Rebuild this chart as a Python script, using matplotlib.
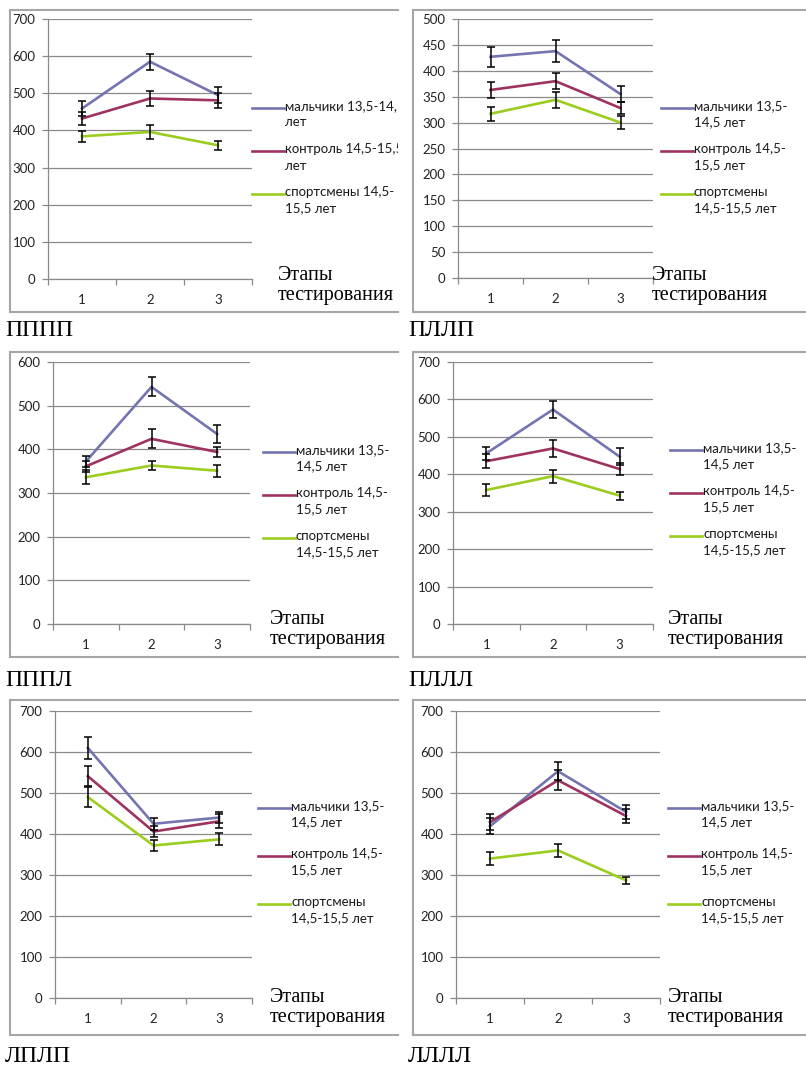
import matplotlib
matplotlib.use("Agg")
import matplotlib.pyplot as plt
from matplotlib.lines import Line2D
from matplotlib.transforms import Bbox, TransformedBbox

# --- data ---
stages = ["1", "2", "3"]
panel_names = ["ПППП", "ПЛЛП", "ПППЛ", "ПЛЛЛ", "ЛПЛП", "ЛЛЛЛ"]
y_max = [700, 500, 600, 700, 700, 700]
y_step = [100, 50, 100, 100, 100, 100]

boys = [[459, 585, 495], [427, 438, 355], [372, 543, 435],
        [456, 573, 447], [610, 425, 440], [419, 553, 454]]
boys_err = [[20, 22, 21], [19, 21, 15], [13, 22, 21],
            [18, 23, 22], [26, 15, 14], [20, 22, 17]]
control = [[432, 486, 481], [363, 380, 328], [361, 424, 394],
           [435, 469, 414], [541, 406, 431], [429, 531, 444]]
control_err = [[18, 20, 20], [15, 16, 12], [12, 22, 11],
               [18, 23, 16], [24, 14, 17], [19, 24, 16]]
athletes = [[384, 396, 360], [317, 344, 300], [336, 363, 351],
            [358, 395, 343], [490, 372, 387], [340, 360, 287]]
athletes_err = [[15, 18, 12], [14, 16, 12], [16, 11, 14],
                [16, 17, 11], [24, 14, 15], [15, 15, 9]]

legend_labels = [
    ["мальчики 13,5-14,5\nлет", "контроль 14,5-15,5\nлет", "спортсмены 14,5-\n15,5 лет"],
    ["мальчики 13,5-\n14,5 лет", "контроль 14,5-\n15,5 лет", "спортсмены\n14,5-15,5 лет"],
    ["мальчики 13,5-\n14,5 лет", "контроль 14,5-\n15,5 лет", "спортсмены\n14,5-15,5 лет"],
    ["мальчики 13,5-\n14,5 лет", "контроль 14,5-\n15,5 лет", "спортсмены\n14,5-15,5 лет"],
    ["мальчики 13,5-\n14,5 лет", "контроль 14,5-\n15,5 лет", "спортсмены\n14,5-15,5 лет"],
    ["мальчики 13,5-\n14,5 лет", "контроль 14,5-\n15,5 лет", "спортсмены\n14,5-15,5 лет"],
]
colors = ["#7474b0", "#9e3362", "#9acd1e"]

# --- layout in pixels (top-left origin) ---
W, H = 806, 1066
axes_px = [(48, 19, 252, 279), (458, 19, 653, 278),
           (53, 362, 250, 624), (453, 362, 653, 624),
           (55, 711, 252, 998), (456, 711, 660, 998)]
frame_px = [(10, 10, 398, 312), (413, 10, 806, 312),
            (10, 352, 398, 657), (413, 352, 806, 657),
            (10, 700, 398, 1035), (413, 700, 806, 1035)]
legend_px = [(252, 108, 43), (661, 108, 43),
             (263, 452, 43), (670, 450, 43),
             (258, 808, 48), (668, 808, 48)]
xlabel_px = [(278, 266), (652, 266), (270, 610), (668, 610), (270, 988), (668, 988)]
name_y = [330, 330, 680, 680, 1057, 1057]

SANS = ["Lato", "DejaVu Sans"]
SERIF = ["Liberation Serif", "DejaVu Serif"]
GRID = "#8a8a8a"


def fx(x):
    return x / W


def fy(y):
    return 1 - y / H


fig = plt.figure(figsize=(W / 100, H / 100), dpi=100)

for i in range(6):
    x0, y0, x1, y1 = axes_px[i]
    ax = fig.add_axes([fx(x0), fy(y1), (x1 - x0) / W, (y1 - y0) / H])
    xs = [1, 2, 3]
    series = [(boys[i], boys_err[i]), (control[i], control_err[i]),
              (athletes[i], athletes_err[i])]
    for (vals, errs), c in zip(series, colors):
        ax.plot(xs, vals, color=c, lw=1.9, zorder=3)
    for vals, errs in series:
        ax.errorbar(xs, vals, yerr=errs, fmt="none", ecolor="black",
                    elinewidth=1.1, capsize=2.6, capthick=1.1, zorder=4)

    ax.set_xlim(0.5, 3.5)
    ax.set_ylim(0, y_max[i])
    ax.set_yticks(range(0, y_max[i] + 1, y_step[i]))
    ax.yaxis.grid(True, color=GRID, lw=0.9)
    ax.set_axisbelow(True)
    ax.set_xticks(xs)
    ax.set_xticklabels(stages)
    ax.set_xticks([0.5, 1.5, 2.5, 3.5], minor=True)
    ax.tick_params(axis="x", which="major", length=0, pad=11,
                   labelsize=9.5, labelcolor="#222222")
    ax.tick_params(axis="x", which="minor", length=4, color=GRID, width=0.9)
    ax.tick_params(axis="y", length=4, color=GRID, width=0.9, pad=5,
                   labelsize=9.5, labelcolor="#222222")
    for lab in ax.get_xticklabels() + ax.get_yticklabels():
        lab.set_family(SANS)
    for s in ["top", "right"]:
        ax.spines[s].set_visible(False)
    for s in ["left", "bottom"]:
        ax.spines[s].set_color(GRID)
        ax.spines[s].set_linewidth(0.9)

    # frame of the chart object (right edge cropped in the source)
    fl, ft, fr, fb = frame_px[i]
    for xa, ya in [([fl, fr], [ft, ft]), ([fl, fl], [ft, fb]), ([fl, fr], [fb, fb])]:
        fig.add_artist(Line2D([fx(v) for v in xa], [fy(v) for v in ya],
                              color="#a6a6a6", lw=1.5))

    # legend drawn by hand: handle sits on the first line of each label
    clip = TransformedBbox(Bbox([[fx(fl), fy(fb)], [fx(fr), fy(ft)]]), fig.transFigure)
    lx, ly, dy = legend_px[i]
    for k, (lab, c) in enumerate(zip(legend_labels[i], colors)):
        yy = ly + k * dy
        fig.add_artist(Line2D([fx(lx), fx(lx + 32)], [fy(yy), fy(yy)],
                              color=c, lw=1.9))
        t = fig.text(fx(lx + 33), fy(yy - 8), lab, fontsize=9.5, family=SANS,
                     va="top", ha="left", linespacing=1.45, color="#1a1a1a")
        t.set_clip_box(clip)
        t.set_clip_on(True)

    xl, yl = xlabel_px[i]
    fig.text(fx(xl), fy(yl), "Этапы\nтестирования", fontsize=14.5, family=SERIF,
             va="top", ha="left", linespacing=1.1)
    fig.text(fx(fl - 5), fy(name_y[i]), panel_names[i], fontsize=17, family=SERIF,
             va="center", ha="left")

fig.savefig("out.png", dpi=100)
